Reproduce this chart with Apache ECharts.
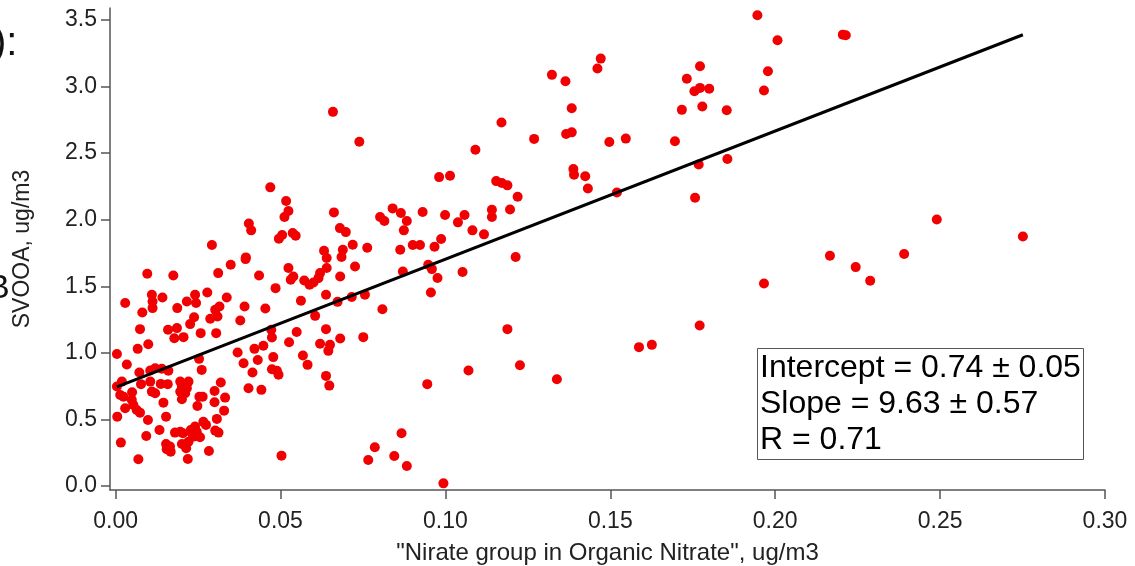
<!DOCTYPE html>
<html><head><meta charset="utf-8">
<script src="https://cdn.jsdelivr.net/npm/echarts@6/dist/echarts.min.js"></script>
<style>html,body{margin:0;padding:0;background:#fff}#c{width:1135px;height:566px}</style>
</head><body><div id="c"></div>
<script>
const xTicks = [0, 0.05, 0.10, 0.15, 0.20, 0.25, 0.30];
const yTicks = [0, 0.5, 1.0, 1.5, 2.0, 2.5, 3.0, 3.5];
const xTitle = '"Nirate group in Organic Nitrate", ug/m3';
const yTitle = 'SVOOA, ug/m3';
const statLines = ['Intercept = 0.74 \u00b1 0.05', 'Slope = 9.63 \u00b1 0.57', 'R = 0.71'];
const fitIntercept = 0.74;
const fitSlope = 9.63;

const xValues = [
0.0659,0.0739,0.1091,0.117,0.0981,0.1014,0.1154,
0.0469,0.0517,0.0524,0.0512,0.0404,0.0411,0.0292,0.0395,0.0495,0.0505,0.0537,0.0546,0.0662,0.068,0.0698,0.0632,0.0689,0.0719,0.0763,0.064,0.0685,0.0802,0.0815,0.084,0.0865,0.0883,0.0874,0.0931,0.0863,0.0901,0.0923,0.0967,0.0987,0.0999,0.1038,0.1058,0.1082,0.1117,0.1141,0.1141,
0.064,0.0524,0.0539,0.0531,0.0572,0.0588,0.06,0.0615,0.062,0.0681,0.0726,0.0871,0.0948,0.0959,0.0976,0.1052,0.0956,0.107,0.0945,0.0994,0.0867,0.0786,0.0766,0.0845,0.0883,0.0503,
0.0809,0.0751,0.0756,0.0716,0.0673,0.0638,0.0605,0.0638,0.0681,0.062,0.065,0.0645,0.0638,0.0648,0.0582,0.0568,0.0526,0.0549,0.0562,0.0485,0.0454,0.0472,0.0474,0.0448,0.0421,0.0478,0.0431,0.0474,0.0489,0.0494,0.0415,0.0388,0.037,0.0403,0.0442,0.0378,0.0391,0.0435,0.0394,0.0349,0.0311,0.0278,0.0337,0.0315,0.0302,0.0309,0.0287,0.0305,0.0258,0.0253,0.0261,
0.0241,0.0244,0.0216,0.0187,0.0238,0.0226,0.0142,0.011,0.0112,0.0112,0.0081,0.0096,0.0175,0.0029,0.0159,0.0186,0.0178,0.0206,0.0074,0.0099,0.0067,0.0004,0.0034,0.0072,0.0077,0.0105,0.012,0.014,0.016,0.0105,0.0137,0.0158,0.011,0.012,
0.0196,0.0221,0.0201,0.0216,0.0196,0.0211,0.0201,0.0254,0.0264,0.0248,0.0145,0.0153,0.0098,0.005,0.0049,0.0054,0.0064,0.0074,0.0004,0.0014,0.0024,0.0019,0.0029,0.0005,0.0016,0.0069,0.0093,0.0133,
0.0153,0.016,0.0167,0.0155,0.0165,0.018,0.0196,0.0204,0.0201,0.0214,0.0221,0.0236,0.0228,0.0246,0.0256,0.0241,0.0231,0.0266,0.0274,0.0283,0.0219,0.0302,0.0312,0.0307,0.0329,0.0332,0.03,0.03,0.0319,
0.1946,0.2007,0.2205,0.2214,0.1978,0.1966,0.1772,0.1732,0.1755,0.1772,0.18,0.1779,0.1717,0.1853,0.1696,0.1768,0.1855,0.1757,0.2166,0.1471,0.1461,0.1323,0.1364,0.1383,0.1366,0.1383,0.1269,0.1497,0.1547,0.1388,0.139,0.1424,0.1432,0.152,0.1171,0.1188,0.1219,0.1196,0.1213,
0.1188,0.1226,0.1338,0.1587,0.1626,0.1771,0.1966,0.2244,0.2288,
0.249,0.2751,0.2391
];
const yValues = [
2.81,2.586,2.526,2.73,2.32,2.33,2.29,
2.243,2.14,2.065,2.02,1.972,1.92,1.81,1.717,1.857,1.885,1.90,1.88,2.055,1.937,1.907,1.767,1.774,1.812,1.789,1.712,1.72,2.02,1.99,2.085,2.05,1.99,1.92,2.058,1.774,1.81,1.81,1.797,1.855,2.035,1.98,2.035,1.92,1.89,2.075,2.02,
1.637,1.637,1.574,1.549,1.544,1.511,1.529,1.561,1.599,1.574,1.649,1.611,1.662,1.629,1.562,1.607,1.453,0.867,0.765,0.02,0.396,0.291,0.195,0.226,0.150,0.228,
1.328,1.118,1.436,1.419,1.383,1.436,1.278,1.178,1.108,1.068,1.06,1.015,0.827,0.754,0.91,0.98,1.08,1.156,1.391,1.486,1.333,1.173,1.115,1.053,1.03,0.968,0.947,0.877,0.865,0.835,0.852,0.922,1.003,0.734,0.722,1.243,1.348,1.581,1.704,1.662,1.599,1.453,1.416,1.348,1.323,1.273,1.256,1.148,1.148,0.955,0.872,
1.436,1.374,1.386,1.336,1.268,1.216,1.416,1.436,1.386,1.336,1.303,1.594,1.581,1.374,1.173,1.186,1.11,1.118,1.178,1.065,1.03,0.992,0.912,0.852,0.765,0.867,0.885,0.88,0.865,0.784,0.767,0.765,0.709,0.697,
0.784,0.784,0.747,0.734,0.709,0.697,0.652,0.671,0.671,0.601,0.626,0.521,0.496,0.704,0.647,0.609,0.571,0.551,0.747,0.684,0.671,0.784,0.584,0.521,0.326,0.201,0.376,0.421,
0.316,0.283,0.258,0.276,0.296,0.401,0.408,0.396,0.316,0.283,0.333,0.371,0.421,0.408,0.366,0.446,0.396,0.483,0.459,0.263,0.203,0.416,0.401,0.504,0.566,0.664,0.629,0.714,0.777,
3.536,3.348,3.39,3.386,3.115,2.97,3.153,3.058,2.965,2.99,2.983,2.85,2.825,2.822,2.589,2.414,2.456,2.165,1.729,3.21,3.135,3.088,3.04,2.837,2.644,2.656,2.607,2.584,2.609,2.381,2.338,2.326,2.235,2.205,2.276,2.258,2.173,2.077,1.72,
1.178,0.907,0.802,1.043,1.06,1.205,1.521,1.644,1.541,
2.002,1.874,1.742
];

const FONT = '"Liberation Sans", Arial, sans-serif';
const points = xValues.map((x, i) => [x, yValues[i]]);
const xMinData = Math.min(...xValues), xMaxData = Math.max(...xValues);
const fitLine = [[xMinData, fitIntercept + fitSlope * xMinData], [xMaxData, fitIntercept + fitSlope * xMaxData]];

const chart = echarts.init(document.getElementById('c'), null, {renderer: 'canvas'});
chart.setOption({
  animation: false,
  backgroundColor: '#fff',
  grid: {left: 110, right: 30, top: 8, bottom: 76, containLabel: false, outerBoundsMode: 'none'},
  title: {
    text: statLines.join('\n'),
    left: 757, top: 348,
    borderColor: '#555', borderWidth: 1,
    padding: [2, 3, 2, 3],
    backgroundColor: '#fff',
    textStyle: {fontFamily: FONT, fontSize: 32, lineHeight: 36, fontWeight: 'normal', color: '#000'}
  },
  xAxis: {
    type: 'value', min: -0.0017, max: 0.30,
    name: xTitle, nameLocation: 'middle', nameGap: 51,
    nameTextStyle: {fontFamily: FONT, fontSize: 24, color: '#222'},
    axisLine: {onZero: false, lineStyle: {color: '#555', width: 1.5}},
    axisTick: {customValues: xTicks, length: 9, lineStyle: {color: '#555', width: 1.5}},
    axisLabel: {customValues: xTicks, formatter: v => v.toFixed(2), fontFamily: FONT, fontSize: 23, color: '#222', margin: 20},
    splitLine: {show: false}
  },
  yAxis: {
    type: 'value', min: -0.03, max: 3.59,
    name: yTitle, nameLocation: 'middle', nameRotate: 90, nameGap: 76,
    nameTextStyle: {fontFamily: FONT, fontSize: 23, color: '#222'},
    axisLine: {onZero: false, lineStyle: {color: '#555', width: 1.5}},
    axisTick: {customValues: yTicks, length: 9, lineStyle: {color: '#555', width: 1.5}},
    axisLabel: {customValues: yTicks, formatter: v => v.toFixed(1), fontFamily: FONT, fontSize: 23, color: '#222', margin: 13},
    splitLine: {show: false}
  },
  graphic: [
    {type: 'text', left: -7, top: 24, style: {text: '):', fontFamily: FONT, fontSize: 40, fill: '#111'}},
    {type: 'text', left: -13, top: 272, style: {text: 'B', fontFamily: FONT, fontSize: 34, fill: '#111'}}
  ],
  series: [
    {type: 'scatter', data: points, symbolSize: 10, itemStyle: {color: 'rgb(240,0,0)', opacity: 1}, z: 2},
    {type: 'line', data: fitLine, symbol: 'none', lineStyle: {color: '#000', width: 3}, z: 3, silent: true}
  ]
});
</script>
</body></html>
